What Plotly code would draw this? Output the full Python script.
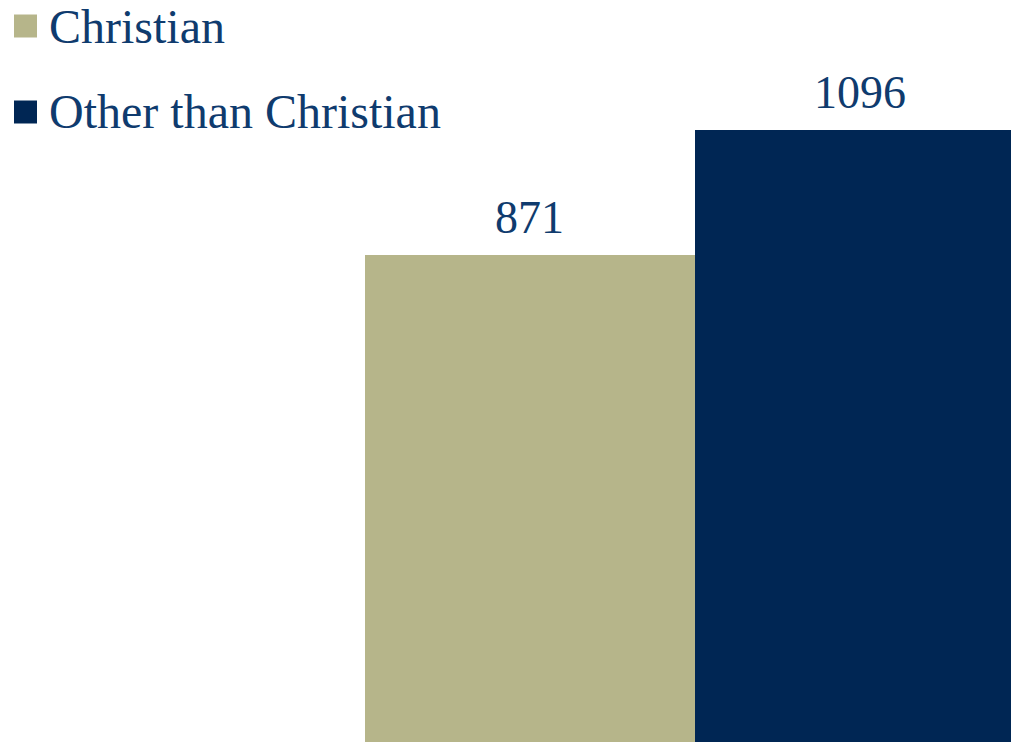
import plotly.graph_objects as go

# Counts by religious affiliation
categories = ["Christian", "Other than Christian"]
counts = [871, 1096]
colors = ["#B6B58A", "#002654"]

TEXT_COLOR = "#0F3B6E"
FONT = "Liberation Serif, Times New Roman, serif"

fig = go.Figure()
for name, value, color in zip(categories, counts, colors):
    fig.add_trace(go.Bar(
        x=[name], y=[value], name=name,
        marker=dict(color=color, line=dict(width=0)),
        showlegend=False,
    ))
    # value label above each bar
    fig.add_annotation(
        x=name, y=value, xref="x", yref="y",
        text=str(value), showarrow=False,
        xanchor="center", yanchor="bottom", yshift=10,
        font=dict(family=FONT, size=46, color=TEXT_COLOR),
    )

# Legend drawn as square swatches with text beside them
W, H = 1011, 742
for i, (name, color) in enumerate(zip(categories, colors)):
    cy = 26 + i * 86
    fig.add_shape(
        type="rect", xref="paper", yref="paper",
        x0=14 / W, x1=37 / W, y0=1 - (cy + 11.5) / H, y1=1 - (cy - 11.5) / H,
        fillcolor=color, line=dict(width=0),
    )
    fig.add_annotation(
        x=47 / W, y=1 - cy / H, xref="paper", yref="paper",
        text=name, showarrow=False,
        xanchor="left", yanchor="middle",
        font=dict(family=FONT, size=48, color=TEXT_COLOR),
    )

fig.update_layout(
    width=W, height=H,
    margin=dict(l=0, r=0, t=0, b=0),
    paper_bgcolor="white", plot_bgcolor="white",
    barmode="overlay", bargap=0,
    xaxis=dict(visible=False, range=[-1.606, 1.458]),
    yaxis=dict(visible=False, range=[0, 1328]),
)

fig.write_html("out.html")
